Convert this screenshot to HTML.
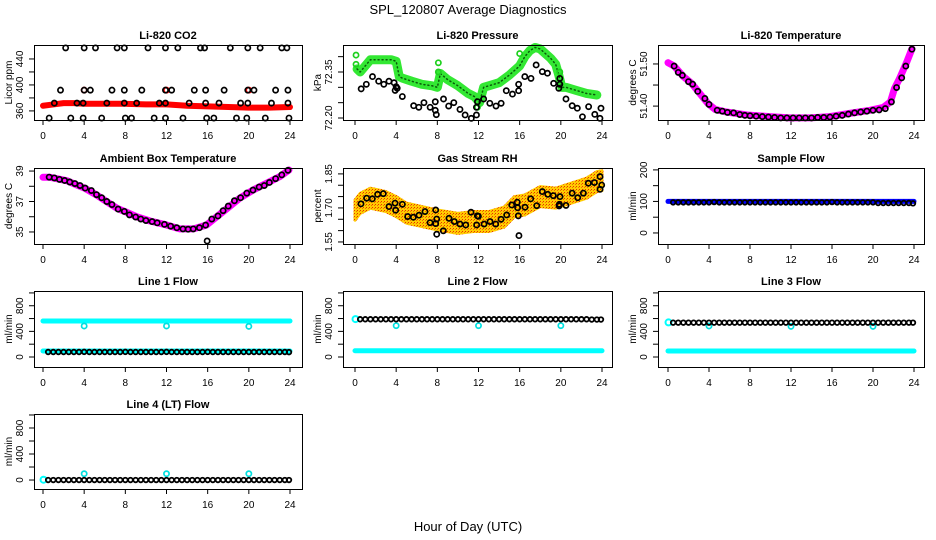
<!DOCTYPE html>
<html><head><meta charset="utf-8"><style>
html,body{margin:0;padding:0;background:#fff}
svg{display:block}
text{font-family:"Liberation Sans",sans-serif}
</style></head><body>
<svg id="chart" width="936" height="540" viewBox="0 0 936 540" xmlns="http://www.w3.org/2000/svg">
<defs>
<pattern id="rhpat" width="3" height="3" patternUnits="userSpaceOnUse"><rect width="3" height="3" fill="#ffcc00"/><rect width="1" height="1" fill="#e83000"/><rect x="2" y="1" width="1" height="1" fill="#f07000"/></pattern>
</defs>
<text x="468" y="14" font-size="13" text-anchor="middle">SPL_120807  Average Diagnostics</text>
<text x="468" y="531" font-size="13" text-anchor="middle">Hour of Day (UTC)</text>
</svg>
<script>
// ---------- data ----------
const xTicks = [0, 4, 8, 12, 16, 20, 24];
const halfHours = [0.5,1,1.5,2,2.5,3,3.5,4,4.5,5,5.5,6,6.5,7,7.5,8,8.5,9,9.5,10,10.5,11,11.5,12,12.5,13,13.5,14,14.5,15,15.5,16,16.5,17,17.5,18,18.5,19,19.5,20,20.5,21,21.5,22,22.5,23,23.5,23.9];

// CO2
const co2RedHours = [0,1,2,3,4,6,8,10,12,14,16,18,20,22,24];
const co2RedVals = [368,370,372,372,371,371,371,370,370,368,367,366,365,365,366];
const co2BlkHours = [2.2,4.0,5.1,7.2,7.9,10.2,11.9,13.1,15.3,15.7,18.2,19.9,21.1,23.2,23.7,
 1.7,4.0,4.6,6.7,7.9,9.6,11.9,12.5,14.7,15.8,17.6,19.9,20.5,22.6,23.8,
 1.1,3.3,3.9,6.2,7.9,9.1,11.3,11.9,14.2,15.8,17.1,19.2,19.9,22.2,23.8,
 0.6,2.7,3.9,5.7,8.0,8.6,10.8,11.9,13.6,15.9,16.6,18.8,19.8,21.6,23.9];
const co2BlkVals = [457,457,457,457,457,457,457,457,457,457,457,457,457,457,457,
 392,392,392,392,392,392,392,392,392,392,392,392,392,392,392,
 372,372,372,372,372,372,372,372,372,372,372,372,372,372,372,
 349,349,349,349,349,349,349,349,349,349,349,349,349,349,349];
const co2RedOutHours = [4.0,12.0,20.0];
const co2RedOutVals = [392,392,392];

// Pressure
const presGreenHours = [0.2,0.5,1.0,1.5,2.5,3.5,4.0,4.3,4.6,5.5,6.5,7.5,8.0,8.3,9.0,10.0,11.0,11.6,12.1,12.5,13.0,14.0,15.0,16.0,16.5,17.0,17.5,18.0,18.5,19.0,19.5,19.8,20.1,20.5,21.5,22.5,23.5];
const presGreenVals = [72.36,72.35,72.37,72.39,72.39,72.39,72.385,72.335,72.33,72.32,72.31,72.305,72.30,72.345,72.325,72.305,72.28,72.27,72.25,72.30,72.305,72.315,72.34,72.37,72.40,72.42,72.43,72.425,72.41,72.395,72.375,72.34,72.30,72.30,72.29,72.28,72.275];
const presGreenOutHours = [0.1,0.1,8.1,8.1,16.0,19.9,11.9];
const presGreenOutVals = [72.405,72.375,72.38,72.35,72.41,72.35,72.235];
const presBlkHours = [0.6,1.1,1.7,2.3,2.8,3.3,3.8,3.9,4.0,4.1,4.6,5.7,6.2,6.7,7.3,7.8,7.8,7.9,8.6,9.1,9.6,10.2,10.7,11.3,11.8,11.8,11.9,12.5,13.1,13.7,14.2,14.7,15.3,15.9,15.9,16.5,17.1,17.6,18.2,18.7,19.3,19.8,19.9,19.9,20.5,21.1,21.6,22.1,22.7,23.3,23.8,23.9];
const presBlkVals = [72.295,72.31,72.335,72.32,72.31,72.32,72.315,72.29,72.302,72.297,72.27,72.24,72.235,72.25,72.235,72.253,72.225,72.211,72.262,72.239,72.25,72.228,72.21,72.199,72.21,72.235,72.253,72.262,72.248,72.239,72.248,72.289,72.278,72.31,72.289,72.335,72.329,72.373,72.351,72.346,72.313,72.297,72.31,72.329,72.262,72.24,72.232,72.204,72.237,72.212,72.199,72.232];

// Li-820 temperature
const tempMagHours = [0,0.6,1.5,2.3,3.1,3.9,4.6,5.7,7.7,9.9,11.9,13.9,15.8,17.8,19.7,21.0,21.7,22.1,22.6,23.3,23.8];
const tempMagVals = [51.503,51.495,51.47,51.454,51.43,51.406,51.392,51.386,51.379,51.375,51.372,51.372,51.375,51.383,51.39,51.397,51.41,51.442,51.466,51.505,51.536];
const tempBlkHours = [0.6,1.0,1.4,2.0,2.4,2.9,3.6,4.0,4.8,5.3,5.8,6.4,7.0,7.5,8.0,8.6,9.2,9.8,10.4,11.0,11.6,12.2,12.8,13.4,14.0,14.6,15.2,15.8,16.4,17.0,17.6,18.2,18.8,19.4,20.0,20.6,21.2,21.8,22.3,22.8,23.2,23.8];
const tempBlkVals = [51.495,51.48,51.473,51.458,51.452,51.435,51.418,51.404,51.39,51.388,51.385,51.384,51.38,51.378,51.377,51.376,51.375,51.374,51.373,51.372,51.372,51.372,51.372,51.372,51.372,51.373,51.373,51.374,51.376,51.378,51.381,51.384,51.386,51.388,51.39,51.391,51.394,51.41,51.444,51.467,51.495,51.535];

// Ambient box temperature
const ambMagHours = [0,0.7,2.3,3.3,4.1,5.2,6.2,7.2,8.0,9.1,10.4,12.0,13.3,14.6,15.9,16.6,17.9,19.1,20.4,21.7,23.0,23.9];
const ambMagVals = [38.59,38.59,38.37,38.08,37.86,37.43,36.99,36.55,36.33,36.0,35.72,35.46,35.2,35.2,35.46,35.85,36.55,37.21,37.75,38.19,38.63,39.07];
const ambBlkHours = [0.6,1.1,1.6,2.1,2.6,3.1,3.6,4.1,4.7,5.2,5.7,6.2,6.7,7.3,7.9,8.4,9.0,9.5,10.0,10.6,11.1,11.8,12.4,13.0,13.6,14.1,14.6,15.2,15.8,16.4,17.0,17.5,18.0,18.6,19.2,19.8,20.4,21.0,21.5,22.0,22.6,23.2,23.8,15.95];
const ambBlkVals = [38.6,38.55,38.45,38.38,38.28,38.18,38.05,37.88,37.72,37.45,37.25,37.0,36.8,36.5,36.35,36.12,35.98,35.85,35.75,35.68,35.6,35.5,35.38,35.28,35.2,35.18,35.2,35.28,35.45,35.85,36.05,36.4,36.7,37.05,37.25,37.55,37.75,37.95,38.05,38.25,38.5,38.75,39.05,34.41];

// Gas stream RH
const rhBandHours = [0,0.5,1.5,3,4,5,6.5,8,10,11.5,13,14.5,15.5,16.5,18,19.5,21,22.5,23.5,24];
const rhBandVals = [1.69,1.72,1.743,1.728,1.706,1.677,1.662,1.647,1.632,1.64,1.64,1.66,1.706,1.713,1.75,1.743,1.765,1.787,1.816,1.82];
const rhBlkHours = [0.58,1.13,1.68,2.2,2.75,3.3,3.89,3.95,4.6,5.12,5.67,6.22,6.8,7.29,7.84,7.84,7.94,7.94,8.58,9.13,9.65,10.2,10.76,11.27,11.82,11.89,11.99,12.54,13.12,13.67,14.19,14.74,15.23,15.77,15.8,15.87,15.93,16.52,17.07,17.66,18.2,18.73,19.27,19.83,19.86,19.92,20.5,21.1,21.64,22.19,22.67,23.26,23.81,23.81,23.97];
const rhBlkVals = [1.718,1.743,1.740,1.760,1.763,1.706,1.721,1.690,1.716,1.662,1.659,1.668,1.684,1.635,1.631,1.691,1.651,1.584,1.599,1.654,1.640,1.629,1.625,1.681,1.625,1.665,1.663,1.629,1.640,1.629,1.650,1.669,1.713,1.725,1.701,1.665,1.578,1.703,1.740,1.710,1.772,1.760,1.754,1.709,1.716,1.750,1.711,1.765,1.745,1.765,1.809,1.812,1.838,1.782,1.801];

// Flows
const fullHours = [0,24];
const sampleBlueVals = [100,100];
const sampleBlkVals = [97,97,97,97,97,97,97,97,98,97,97,97,97,97,97,97,97,97,97,97,97,97,97,97,97,97,97,97,97,97,97,98,97,97,97,97,97,97,97,97,95,95,95,95,95,95,95,94];
const l1CyanHiVals = [562,562];
const l1CyanLoVals = [94,94];
const l1BlkVals = [78,78,78,78,78,78,78,80,78,78,78,78,78,78,78,80,78,78,78,78,78,78,78,80,78,78,78,78,78,78,78,80,78,78,78,78,78,78,78,78,78,78,78,78,78,78,78,76];
const l2CyanLoVals = [98,98];
const l2BlkVals = [589,589,589,589,589,589,589,589,589,589,589,589,589,589,589,589,589,589,589,589,589,589,589,589,589,589,589,589,589,589,589,589,589,589,589,589,589,589,589,589,589,589,589,589,589,585,585,585];
const l3CyanLoVals = [94,94];
const l3BlkVals = [536,536,536,536,536,536,536,536,536,536,536,536,536,536,536,536,536,536,536,536,536,536,536,536,536,536,536,536,536,536,536,536,536,536,536,536,536,536,536,536,536,536,536,536,536,536,536,536];
const l4BlkVals = [0,0,0,0,0,0,0,0,0,0,0,0,0,0,0,0,0,0,0,0,0,0,0,0,0,0,0,0,0,0,0,0,0,0,0,0,0,0,0,0,0,0,0,0,0,0,0,0];
const outHours = [4,12,20];
const l1OutVals = [484,484,478];
const l2OutVals = [489,489,489];
const l3OutVals = [484,478,478];
const l4OutVals = [97,97,97];
const startHours = [0.05];
const l2StartVals = [592];
const l3StartVals = [540];
const l4StartVals = [5];

// ---------- drawing ----------
const svg = document.getElementById('chart');
const NS = 'http://www.w3.org/2000/svg';
function mk(tag, attrs, parent) {
  const e = document.createElementNS(NS, tag);
  for (const k in attrs) e.setAttribute(k, attrs[k]);
  (parent || svg).appendChild(e);
  return e;
}
function panel(o) {
  const g = mk('g', {});
  
  
  const sx = h => o.x0 + (o.x24 - o.x0) * h / 24;
  const sy = v => o.bottom - (v - o.ymin) / (o.ymax - o.ymin) * (o.bottom - o.top);
  const t = mk('text', {x: (o.left + o.right) / 2, y: o.top - 6, 'font-size': 11, 'font-weight': 'bold', 'text-anchor': 'middle'}, g);
  t.textContent = o.title;
  
  
  const yt = mk('text', {x: 0, y: 0, 'font-size': 10, 'text-anchor': 'middle', transform: 'translate(' + (o.left - 22) + ',' + ((o.top + o.bottom) / 2) + ') rotate(-90)'}, g);
  yt.textContent = o.ylab;
  
  
  xTicks.forEach(h => {
    mk('line', {x1: sx(h), x2: sx(h), y1: o.bottom, y2: o.bottom + 5, stroke: '#000'}, g);
    if (o.xlabels) {
      const l = mk('text', {x: sx(h), y: o.bottom + 19, 'font-size': 10, 'text-anchor': 'middle'}, g);
      l.textContent = h;
      
      
    }
  });
  mk('line', {x1: sx(0), x2: sx(24), y1: o.bottom + 0.5, y2: o.bottom + 0.5, stroke: '#000'}, g);
  o.yticks.forEach(v => {
    mk('line', {x1: o.left - 5, x2: o.left, y1: sy(v), y2: sy(v), stroke: '#000'}, g);
  });
  o.ylabels.forEach(v => {
    const l = mk('text', {x: 0, y: 0, 'font-size': 10, 'text-anchor': 'middle', transform: 'translate(' + (o.left - 11) + ',' + sy(v) + ') rotate(-90)'}, g);
    l.textContent = v;
    
    
  });
  const plot = mk('g', {}, g);
  mk('rect', {x: o.left + 0.5, y: o.top + 0.5, width: o.right - o.left, height: o.bottom - o.top, fill: 'none', stroke: '#000'}, g);
  return {g: plot, sx, sy, name: o.name};
}
function band(p, hs, vs, color, w, nm, dash) {
  const pts = hs.map((h, i) => p.sx(h) + ',' + p.sy(vs[i])).join(' ');
  const e = mk('polyline', {points: pts, fill: 'none', stroke: color, 'stroke-width': w, 'stroke-linejoin': 'round', 'stroke-linecap': 'round'}, p.g);
  if (dash) e.setAttribute('stroke-dasharray', dash);
  
  
}
function dots(p, hs, vs, color, nm, r, sw) {
  hs.forEach((h, i) => {
    const c = mk('circle', {cx: p.sx(h), cy: p.sy(vs[i]), r: r || 2.6, fill: 'none', stroke: color, 'stroke-width': sw || 1.7}, p.g);
    
    
  });
}

const cols = [{left: 34, right: 302, x0: 43, x24: 290}, {left: 343, right: 612, x0: 355, x24: 602}, {left: 658, right: 924, x0: 668, x24: 914}];
const rows = [{top: 45, bottom: 120}, {top: 168, bottom: 244}, {top: 291, bottom: 367}, {top: 414, bottom: 489}];
function cfg(c, r, extra) { return Object.assign({}, cols[c], rows[r], {xlabels: true}, extra); }

// CO2
let p = panel(cfg(0, 0, {name: 'co2', title: 'Li-820 CO2', ylab: 'Licor ppm', ymin: 346, ymax: 461.5, yticks: [360,380,400,420,440], ylabels: [360,400,440]}));
band(p, co2RedHours, co2RedVals, '#ff0000', 6, 'co2-red-series');
dots(p, co2RedOutHours, co2RedOutVals, '#ff0000', 'co2-red-point');
dots(p, co2BlkHours, co2BlkVals, '#000', 'co2-black-point');

// Pressure
p = panel(cfg(1, 0, {name: 'pressure', title: 'Li-820 Pressure', ylab: 'kPa', ymin: 72.1935, ymax: 72.438, yticks: [72.20,72.25,72.30,72.35,72.40], ylabels: ['72.20','72.35']}));
band(p, presGreenHours, presGreenVals, '#33e833', 9, 'pressure-green-series');
band(p, presGreenHours, presGreenVals, '#0a5a0a', 1.5, 'pressure-green-texture', '1 3');
dots(p, presGreenOutHours, presGreenOutVals, '#1ed01e', 'pressure-green-point');
dots(p, presBlkHours, presBlkVals, '#000', 'pressure-black-point');

// Li-820 temperature
p = panel(cfg(2, 0, {name: 'li820-temp', title: 'Li-820 Temperature', ylab: 'degrees C', ymin: 51.367, ymax: 51.545, yticks: [51.40,51.45,51.50], ylabels: ['51.40','51.50']}));
band(p, tempMagHours, tempMagVals, '#ff00ff', 7, 'li820-temp-magenta-series');
dots(p, tempBlkHours, tempBlkVals, '#000', 'li820-temp-black-point');

// Ambient
p = panel(cfg(0, 1, {name: 'ambient-temp', title: 'Ambient Box Temperature', ylab: 'degrees C', ymin: 34.21, ymax: 39.2, yticks: [35,36,37,38,39], ylabels: [35,37,39]}));
band(p, ambMagHours, ambMagVals, '#ff00ff', 7, 'ambient-magenta-series');
dots(p, ambBlkHours, ambBlkVals, '#000', 'ambient-black-point');

// RH
p = panel(cfg(1, 1, {name: 'rh', title: 'Gas Stream RH', ylab: 'percent', ymin: 1.541, ymax: 1.876, yticks: [1.55,1.60,1.65,1.70,1.75,1.80,1.85], ylabels: ['1.55','1.70','1.85']}));
(function () {
  const up = rhBandHours.map((h, i) => p.sx(h) + ',' + (p.sy(rhBandVals[i]) - 10));
  const dn = rhBandHours.map((h, i) => p.sx(h) + ',' + (p.sy(rhBandVals[i]) + 10)).reverse();
  const e = mk('polygon', {points: up.concat(dn).join(' '), fill: 'url(#rhpat)', stroke: 'url(#rhpat)', 'stroke-width': 3, 'stroke-linejoin': 'round'}, p.g);
  
  
})();
dots(p, rhBlkHours, rhBlkVals, '#000', 'rh-black-point');

// Sample flow
p = panel(cfg(2, 1, {name: 'sample-flow', title: 'Sample Flow', ylab: 'ml/min', ymin: -35, ymax: 206, yticks: [0,50,100,150,200], ylabels: [0,100,200]}));
band(p, fullHours, sampleBlueVals, '#0000ff', 5, 'sample-flow-blue-series');
dots(p, halfHours, sampleBlkVals, '#000', 'sample-flow-black-point', 2.3, 1.8);

// Line flows
const flowTicks = [0,200,400,600,800,1000], flowLabels = [0,400,800];
p = panel(cfg(0, 2, {name: 'line1-flow', title: 'Line 1 Flow', ylab: 'ml/min', ymin: -156, ymax: 1030, yticks: flowTicks, ylabels: flowLabels}));
band(p, fullHours, l1CyanHiVals, '#00ffff', 5, 'line1-cyan-high');
band(p, fullHours, l1CyanLoVals, '#00ffff', 5, 'line1-cyan-low');
dots(p, outHours, l1OutVals, '#00e0e0', 'line1-cyan-outlier');
dots(p, halfHours, l1BlkVals, '#000', 'line1-black-point', 2.3, 1.8);

p = panel(cfg(1, 2, {name: 'line2-flow', title: 'Line 2 Flow', ylab: 'ml/min', ymin: -156, ymax: 1030, yticks: flowTicks, ylabels: flowLabels}));
band(p, fullHours, l2CyanLoVals, '#00ffff', 5, 'line2-cyan-low');
dots(p, startHours, l2StartVals, '#00ffff', 'line2-cyan-start', 3, 2);
dots(p, outHours, l2OutVals, '#00e0e0', 'line2-cyan-outlier');
dots(p, halfHours, l2BlkVals, '#000', 'line2-black-point', 2.3, 1.8);

p = panel(cfg(2, 2, {name: 'line3-flow', title: 'Line 3 Flow', ylab: 'ml/min', ymin: -156, ymax: 1030, yticks: flowTicks, ylabels: flowLabels}));
band(p, fullHours, l3CyanLoVals, '#00ffff', 5, 'line3-cyan-low');
dots(p, startHours, l3StartVals, '#00ffff', 'line3-cyan-start', 3, 2);
dots(p, outHours, l3OutVals, '#00e0e0', 'line3-cyan-outlier');
dots(p, halfHours, l3BlkVals, '#000', 'line3-black-point', 2.3, 1.8);

p = panel(cfg(0, 3, {name: 'line4-flow', title: 'Line 4 (LT) Flow', ylab: 'ml/min', ymin: -138, ymax: 1015, yticks: flowTicks, ylabels: flowLabels}));
dots(p, startHours, l4StartVals, '#00ffff', 'line4-cyan-start', 3, 2);
dots(p, outHours, l4OutVals, '#00e0e0', 'line4-cyan-outlier');
dots(p, halfHours, l4BlkVals, '#000', 'line4-black-point', 2.3, 1.8);
</script>
</body></html>
